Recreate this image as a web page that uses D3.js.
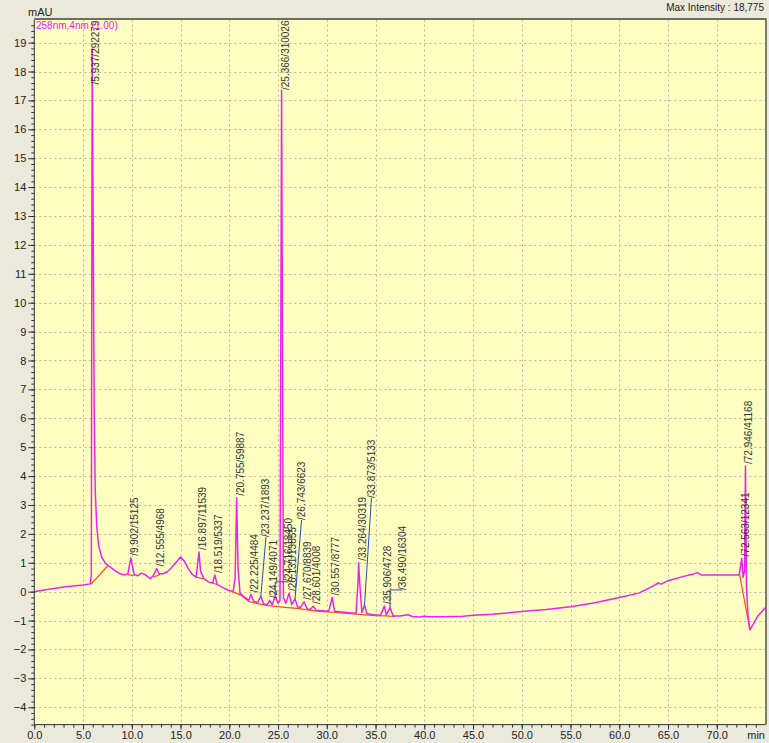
<!DOCTYPE html>
<html><head><meta charset="utf-8">
<script src="https://cdn.jsdelivr.net/npm/d3@7/dist/d3.min.js"></script>
<style>
html,body{margin:0;padding:0;background:#ebe8dc;}
svg{display:block;font-family:"Liberation Sans",Arial,sans-serif;}
</style></head><body>
<svg id="chart" width="769" height="743"></svg>
<script>
// ---- data ----
const yTicks = d3.range(-4, 20);
const xTicks = d3.range(0, 75, 5);
const peakRT     = [5.937, 9.902, 12.555, 16.897, 18.519, 20.755, 22.225, 23.237, 24.149, 24.716, 25.366, 26.131, 26.743, 27.670, 28.601, 30.557, 33.264, 33.873, 35.906, 36.490, 72.563, 72.946];
const peakArea   = [292279, 15125, 4968, 11539, 5337, 59887, 4484, 1893, 4071, 18450, 310026, 13855, 6623, 8839, 4008, 8777, 30319, 5133, 4728, 16304, 12341, 41168];
const peakHeight = [18.775, 1.17, 0.80, 1.37, 0.58, 3.25, -0.10, -0.15, -0.30, -0.15, 17.35, -0.05, -0.25, -0.35, -0.50, -0.20, 1.00, -0.45, -0.50, -0.55, 1.15, 4.35];

// detector signal between the peak apexes [min, mAU]
const signal = [
  [0,0],[1,0.06],[2,0.11],[3,0.16],[4,0.2],[5,0.23],[5.75,0.27],[5.85,0.6],
  [6.05,12],[6.15,6],[6.25,3.5],[6.4,2.3],[6.6,1.6],[6.9,1.2],[7.3,0.98],[7.8,0.85],[8.3,0.72],[8.8,0.62],[9.3,0.58],[9.6,0.62],[9.8,1.0],
  [10.05,0.9],[10.25,0.6],[10.6,0.55],[11.0,0.64],[11.4,0.58],[11.9,0.45],[12.2,0.55],
  [12.8,0.62],[13.2,0.62],[13.6,0.68],[14.0,0.8],[14.5,1.0],[15.0,1.2],[15.4,1.05],[15.8,0.8],[16.2,0.6],[16.6,0.5],[16.8,1.1],
  [17.05,0.7],[17.4,0.45],[17.9,0.33],[18.3,0.3],[18.75,0.25],[19.3,0.15],[19.9,0.05],[20.4,0.0],[20.6,0.5],
  [20.9,0.8],[21.1,-0.05],[21.6,-0.2],[22.0,-0.3],[22.5,-0.33],[22.9,-0.38],[23.5,-0.42],[23.9,-0.45],[24.4,-0.45],
  [25.0,-0.4],[25.2,-0.3],[25.55,-0.2],[25.8,-0.4],[26.4,-0.45],[27.0,-0.52],[27.3,-0.55],[28.0,-0.6],[28.3,-0.62],
  [28.9,-0.64],[29.5,-0.66],[30.2,-0.68],[30.8,-0.68],[31.5,-0.7],[32.3,-0.73],[33.0,-0.75],[33.2,0.3],[33.4,0.2],[33.6,-0.72],
  [34.1,-0.76],[34.8,-0.8],[35.5,-0.82],[36.1,-0.8],[36.8,-0.84],[37.5,-0.84],[38.3,-0.8],[38.8,-0.86],[39.5,-0.88],[40.0,-0.85],
  [40.5,-0.87],[42,-0.87],[44,-0.85],[45,-0.82],[47,-0.78],[50,-0.69],[52.5,-0.62],[55,-0.52],[57.5,-0.38],[60,-0.2],[62,-0.05],
  [63.5,0.2],[64,0.3],[64.3,0.26],[65,0.38],[66.5,0.52],[67.5,0.6],[68,0.66],[68.4,0.58],[70,0.58],[72.3,0.58],[72.45,0.9],
  [72.7,0.5],[72.85,0.7],[73.05,0.2],[73.2,-0.8],[73.4,-1.32],[73.7,-1.15],[74.2,-0.85],[75,-0.55]
];

// integration baselines
const baselines = [
  [[5.8,0.25],[7.5,0.88]],
  [[9.6,0.58],[10.3,0.56]],
  [[12.2,0.5],[12.9,0.6]],
  [[16.6,0.5],[17.3,0.45]],
  [[18.3,0.3],[18.8,0.24]],
  [[20.3,0.0],[21.2,-0.12],[22.0,-0.34],[23.0,-0.42],[24.0,-0.48],[25.0,-0.52],[26.0,-0.55],[27.0,-0.58],[28.0,-0.63],[29.0,-0.67],
   [30.0,-0.7],[31.0,-0.72],[32.0,-0.75],[33.0,-0.78],[34.0,-0.8],[35.0,-0.83],[36.0,-0.84],[37.0,-0.86]],
  [[72.35,0.58],[73.4,-1.32]]
];

// peak labels set off from their apex: [retention time, label time, label mAU]
const labelMoves = [[23.237, 24.12, 1.89], [24.716, 26.43, 0.34], [26.743, 27.77, 2.48], [33.873, 34.94, 3.24], [36.490, 38.12, 0.06]];
const elbowLeaders = [24.716, 36.490];

// ---- layout ----
const W = 769, H = 743;
const pLeft = 34.3, pRight = 765.5, pTop = 19.5, pBottom = 724.6;
const x = d3.scaleLinear().domain([0, 75]).range([pLeft, pRight]);
const y = d3.scaleLinear().domain([-4.6, 19.8]).range([pBottom, pTop]);

const svg = d3.select("#chart");
svg.append("rect").attr("width", W).attr("height", H).attr("fill", "#ebe8dc");
svg.append("rect").attr("x", pLeft).attr("y", pTop).attr("width", pRight - pLeft).attr("height", pBottom - pTop).attr("fill", "#ffffc2");

svg.append("defs").append("clipPath").attr("id", "plot")
  .append("rect").attr("x", pLeft).attr("y", pTop).attr("width", pRight - pLeft).attr("height", pBottom - pTop);

// grid
const grid = svg.append("g").attr("stroke", "#b9b79c").attr("stroke-width", 1).attr("stroke-dasharray", "2,3");
grid.selectAll("line.h").data(yTicks).join("line").attr("class", "h")
  .attr("x1", pLeft).attr("x2", pRight).attr("y1", d => Math.round(y(d)) + 0.5).attr("y2", d => Math.round(y(d)) + 0.5);
grid.selectAll("line.v").data(xTicks.filter(d => d > 0)).join("line").attr("class", "v")
  .attr("y1", pTop).attr("y2", pBottom).attr("x1", d => Math.round(x(d)) + 0.5).attr("x2", d => Math.round(x(d)) + 0.5);

// trace = signal + peak apexes
const apexes = peakRT.map((t, i) => [t, peakHeight[i]]);
const trace = signal.concat(apexes).sort((a, b) => a[0] - b[0]);
const line = d3.line().x(d => x(d[0])).y(d => y(d[1]));

const plot = svg.append("g").attr("clip-path", "url(#plot)");
plot.selectAll("path.base").data(baselines).join("path").attr("class", "base")
  .attr("d", line).attr("fill", "none").attr("stroke", "#ff4a1c").attr("stroke-width", 1.2);
plot.append("path").datum(trace).attr("d", line)
  .attr("fill", "none").attr("stroke", "#f020ee").attr("stroke-width", 1.5).attr("stroke-linejoin", "round");

// peak labels
const labelG = svg.append("g").attr("font-size", 10).attr("fill", "#333");
const moveOf = new Map(labelMoves.map(m => [m[0], m]));
peakRT.forEach((t, i) => {
  const txt = "/" + t.toFixed(3) + "/" + peakArea[i];
  const px = x(t), py = y(peakHeight[i]);
  const mv = moveOf.get(t);
  let lx, ly;
  if (mv) {
    lx = x(mv[1]); ly = y(mv[2]);
    const cx = lx - 3.5;
    const pts = elbowLeaders.includes(t)
      ? [[px, py], [px, ly], [cx, ly]]
      : [[px, py], [cx, ly]];
    svg.append("path").attr("d", d3.line()(pts)).attr("fill", "none").attr("stroke", "#2a46c8").attr("stroke-width", 1);
  } else {
    lx = px + 7; ly = py - 2;
  }
  const t0 = labelG.append("text").attr("text-anchor", "start").text(txt);
  const len = t0.node().getComputedTextLength();
  if (ly - len < pTop + 1) ly = pTop + 1 + len;
  t0.attr("transform", `translate(${lx},${ly}) rotate(-90)`);
});

// axes
const yAxis = svg.append("g").attr("transform", `translate(${pLeft},0)`);
yAxis.append("g").call(d3.axisLeft(y).tickValues(d3.range(-23, 99).map(i => i * 0.2)).tickSize(3).tickFormat(""));
yAxis.append("g").call(d3.axisLeft(y).tickValues(yTicks).tickSize(6).tickPadding(2).tickFormat(d3.format("d")));
yAxis.selectAll("text").attr("font-size", 11).attr("fill", "#222").attr("font-family", "Liberation Sans, Arial, sans-serif");
yAxis.selectAll(".domain").remove();

const xAxis = svg.append("g").attr("transform", `translate(0,${pBottom})`);
xAxis.append("g").call(d3.axisBottom(x).tickValues(d3.range(0, 75)).tickSize(3).tickFormat(""));
xAxis.append("g").call(d3.axisBottom(x).tickValues(xTicks).tickSize(5).tickPadding(2).tickFormat(d3.format(".1f")));
xAxis.selectAll("text").attr("font-size", 11).attr("fill", "#222").attr("font-family", "Liberation Sans, Arial, sans-serif");
xAxis.selectAll(".domain").remove();
svg.selectAll(".tick line").attr("stroke", "#333");

// frame
svg.append("line").attr("x1", pLeft).attr("x2", pLeft).attr("y1", pTop).attr("y2", pBottom).attr("stroke", "#333");
svg.append("line").attr("x1", pLeft).attr("x2", pRight).attr("y1", pBottom).attr("y2", pBottom).attr("stroke", "#333");
svg.append("line").attr("x1", pLeft).attr("x2", pRight + 1).attr("y1", pTop - 0.5).attr("y2", pTop - 0.5).attr("stroke", "#6d6d66").attr("stroke-width", 2);
svg.append("line").attr("x1", pRight + 0.5).attr("x2", pRight + 0.5).attr("y1", pTop).attr("y2", pBottom).attr("stroke", "#555").attr("stroke-width", 1.5);

// titles
svg.append("text").attr("x", 28).attr("y", 16).attr("font-size", 11).attr("fill", "#222").text("mAU");
svg.append("text").attr("x", 764).attr("y", 11).attr("text-anchor", "end").attr("font-size", 10).attr("fill", "#222").text("Max Intensity : 18,775");
svg.append("text").attr("x", 36).attr("y", 29).attr("font-size", 10).attr("fill", "#f020ee").text("258nm,4nm (1.00)");
svg.append("text").attr("x", 765).attr("y", 739).attr("text-anchor", "end").attr("font-size", 11).attr("fill", "#222").text("min");
</script>
</body></html>
